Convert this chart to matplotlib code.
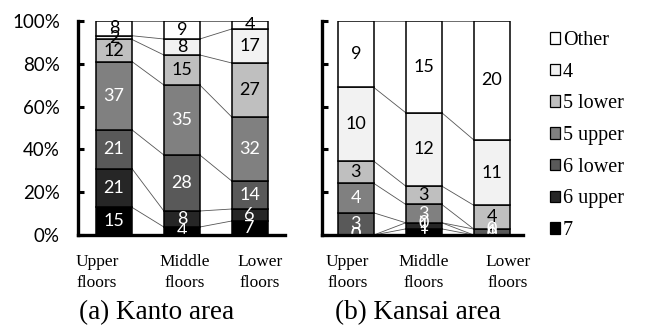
import numpy as np
import matplotlib
matplotlib.use("Agg")
import matplotlib.pyplot as plt
from matplotlib.patches import Patch
from matplotlib.transforms import ScaledTranslation

# seismic intensity groups, bottom to top of each stacked bar
series = ["7", "6 upper", "6 lower", "5 upper", "5 lower", "4", "Other"]
floors = ["Upper\nfloors", "Middle\nfloors", "Lower\nfloors"]

# Kanto counts (upper, middle, lower floors)
kanto_7 = [15, 4, 7]
kanto_6u = [21, 8, 6]
kanto_6l = [21, 28, 14]
kanto_5u = [37, 35, 32]
kanto_5l = [12, 15, 27]
kanto_4 = [2, 8, 17]
kanto_other = [8, 9, 4]

# Kansai counts (upper, middle, lower floors)
kansai_7 = [0, 1, 0]
kansai_6u = [0, 1, 0]
kansai_6l = [3, 0, 1]
kansai_5u = [4, 3, 0]
kansai_5l = [3, 3, 4]
kansai_4 = [10, 12, 11]
kansai_other = [9, 15, 20]

colors = ["#000000", "#262626", "#595959", "#808080", "#bfbfbf", "#f2f2f2", "#ffffff"]
text_colors = ["white", "white", "white", "white", "black", "black", "black"]

serif = "Liberation Serif"
sans = "Lato"

W = 0.53


def draw_area(ax, counts, xlim, show_labels, label_dx):
    counts = np.array(counts, dtype=float)
    totals = counts.sum(axis=0)
    frac = counts / totals
    x = np.arange(len(floors))
    bottoms = np.zeros(len(floors))
    tops = []
    for k, name in enumerate(series):
        ax.bar(x, frac[k], W, bottom=bottoms, color=colors[k],
               edgecolor="black", linewidth=1.1, zorder=2)
        for i in range(len(floors)):
            ax.text(x[i], bottoms[i] + frac[k, i] / 2, f"{int(counts[k, i])}",
                    ha="center", va="center", fontsize=13, family=sans,
                    color=text_colors[k], zorder=3)
        bottoms = bottoms + frac[k]
        tops.append(bottoms.copy())
    # series lines joining segment tops of neighbouring bars
    for t in tops:
        for i in range(len(floors) - 1):
            ax.plot([x[i] + W / 2, x[i + 1] - W / 2], [t[i], t[i + 1]],
                    color="#555555", lw=0.6, zorder=1)

    ax.set_xlim(*xlim)
    ax.set_ylim(0, 1)
    ax.set_yticks(np.linspace(0, 1, 6))
    if show_labels:
        ax.set_yticklabels([f"{int(v)}%" for v in np.linspace(0, 100, 6)],
                           family=sans, fontsize=13.5)
    else:
        ax.set_yticklabels([])
    ax.tick_params(axis="y", direction="in", length=4, width=2.2, pad=13)
    ax.set_xticks(x)
    ax.set_xticklabels(floors, family=serif, fontsize=12.5, linespacing=1.35)
    ax.tick_params(axis="x", length=0, pad=14)
    fig = ax.figure
    for lab, dx in zip(ax.get_xticklabels(), label_dx):
        lab.set_transform(lab.get_transform() + ScaledTranslation(dx / 100, 0, fig.dpi_scale_trans))
    for s in ["top", "right"]:
        ax.spines[s].set_visible(False)
    for s in ["left", "bottom"]:
        ax.spines[s].set_linewidth(2.4)
        ax.spines[s].set_zorder(5)


fig = plt.figure(figsize=(6.5, 3.29), dpi=100)
ax1 = fig.add_axes([0.12, 0.2857, 0.3185, 0.6505])
ax2 = fig.add_axes([0.495, 0.2857, 0.3097, 0.6505])

draw_area(ax1, [kanto_7, kanto_6u, kanto_6l, kanto_5u, kanto_5l, kanto_4, kanto_other],
          (-0.53, 2.52), True, [-17, 3, 10])
draw_area(ax2, [kansai_7, kansai_6u, kansai_6l, kansai_5u, kansai_5l, kansai_4, kansai_other],
          (-0.5, 2.46), False, [-8, 0, 16])

fig.text(157 / 650, 1 - 313 / 329, "(a) Kanto area", ha="center", va="center",
         family=serif, fontsize=19.5)
fig.text(418 / 650, 1 - 313 / 329, "(b) Kansai area", ha="center", va="center",
         family=serif, fontsize=19.5)

handles = [Patch(facecolor=colors[k], edgecolor="black", linewidth=0.9)
           for k in range(len(series))][::-1]
fig.legend(handles, series[::-1], loc="upper left", bbox_to_anchor=(550 / 650, 1 - 31 / 329),
           frameon=False, prop={"family": serif, "size": 14.5},
           handlelength=0.5, handleheight=0.5, handletextpad=0.15,
           labelspacing=0.63, borderpad=0, borderaxespad=0)

fig.savefig("out.png", dpi=100)
